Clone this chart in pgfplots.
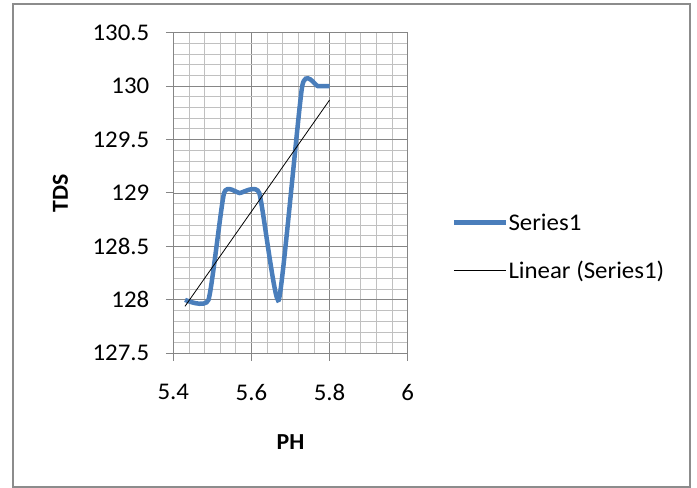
\documentclass[border=0pt]{standalone}
\usepackage{fontspec}
\setmainfont[FakeStretch=1.04]{Carlito}
\usepackage{pgfplots}
\pgfplotsset{compat=1.18}
\definecolor{serblue}{RGB}{74,126,187}
\definecolor{framegray}{RGB}{140,140,140}
\definecolor{majgray}{RGB}{134,134,134}
\definecolor{mingray}{RGB}{192,192,192}
\begin{document}
\begin{tikzpicture}[x=1bp,y=1bp]
\useasboundingbox (0,0) rectangle (697,488);
\draw[framegray, line width=2bp] (13,1) rectangle (690,483.5);
\begin{axis}[
  at={(173.3bp,134.7bp)}, anchor=south west,
  scale only axis, width=234.4bp, height=320.6bp,
  xmin=5.4, xmax=6, ymin=127.5, ymax=130.5,
  xtick={5.4,5.6,5.8,6}, ytick={127.5,128,128.5,129,129.5,130,130.5},
  minor x tick num=4, minor y tick num=4,
  scaled ticks=false,
  grid=both,
  major grid style={majgray, line width=0.8bp},
  minor grid style={mingray, line width=0.8bp},
  axis line style={majgray, line width=1bp},
  tick align=outside, major tick length=7.5bp, minor tick length=0pt,
  tick style={majgray, line width=1bp},
  xtick pos=bottom, ytick pos=left,
  /pgf/number format/assume math mode=true,
  ticklabel style={font=\fontsize{24}{28}\selectfont, black},
  xticklabel style={yshift=-20bp},
  yticklabel style={xshift=-13bp},
  xlabel={\textbf{PH}}, ylabel={\textbf{TDS}},
  label style={font=\fontsize{23}{27}\selectfont},
  xlabel style={at={(axis description cs:0.5,-0.278)}, anchor=center},
  ylabel style={at={(axis description cs:-0.482,0.5)}, anchor=center},
  legend style={at={(axis description cs:1.186,0.333)}, anchor=west, draw=none, fill=none,
    font=\fontsize{24}{28}\selectfont, inner sep=0pt, row sep=28bp,
    nodes={inner sep=0.5bp}},
  legend cell align=left,
  legend image code/.code={\draw[#1] (0bp,0bp) -- (52bp,0bp);},
]
\addplot[serblue, line width=4.5bp, smooth, tension=0.3] coordinates {
  (5.43,128) (5.49,128) (5.53,129) (5.57,129) (5.62,129)
  (5.67,128) (5.73,130) (5.77,130) (5.80,130)
};
\addlegendentry{Series1}
\addplot[black, line width=0.8bp] coordinates {(5.43,127.94) (5.80,129.87)};
\addlegendentry{Linear (Series1)}
\end{axis}
\end{tikzpicture}
\end{document}
